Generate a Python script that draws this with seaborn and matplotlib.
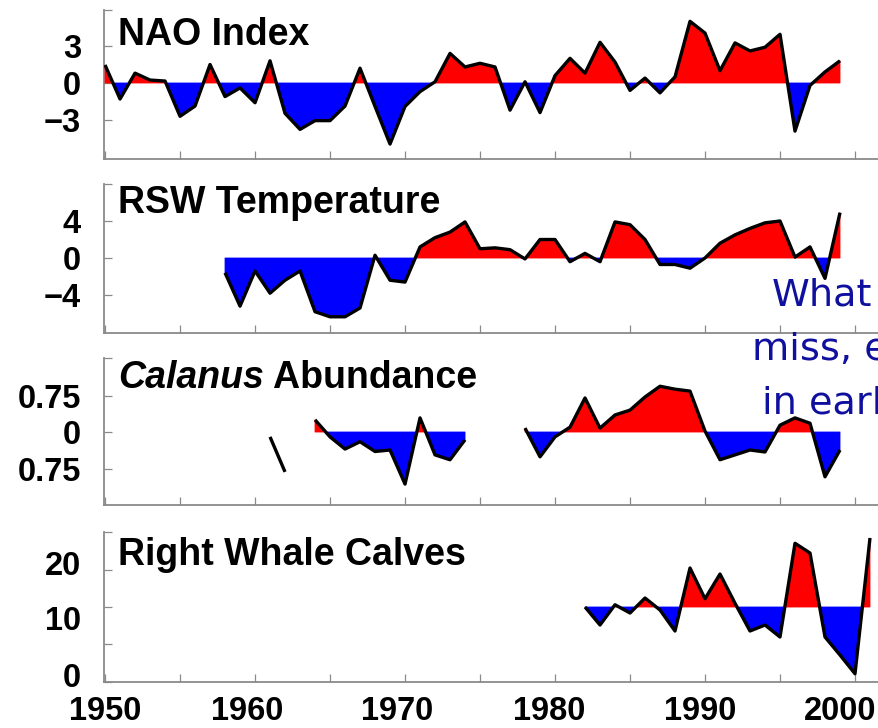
import numpy as np
import pandas as pd
import matplotlib
matplotlib.use("Agg")
import matplotlib.pyplot as plt
import seaborn as sns
from matplotlib import font_manager

# ---------------- data ----------------
nao_years = list(range(1950, 2000))
nao_values = [1.46, -1.3, 0.8, 0.24, 0.16, -2.7, -1.87, 1.5, -1.1, -0.4,
              -1.6, 1.8, -2.46, -3.76, -3.05, -3.05, -1.87, 1.2, -1.9, -4.95,
              -1.9, -0.7, 0.1, 2.4, 1.3, 1.6, 1.3, -2.2, 0.1, -2.4,
              0.6, 2.0, 0.8, 3.3, 1.7, -0.6, 0.4, -0.8, 0.5, 5.0,
              4.05, 1.0, 3.25, 2.6, 2.9, 3.95, -3.9, -0.2, 0.9, 1.8]

rsw_years = list(range(1958, 2000))
rsw_values = [-1.6, -5.2, -1.4, -3.8, -2.4, -1.4, -5.8, -6.35, -6.35, -5.4,
              0.3, -2.4, -2.6, 1.2, 2.2, 2.8, 3.9, 1.0, 1.1, 0.9,
              -0.1, 2.0, 2.0, -0.4, 0.5, -0.4, 3.9, 3.6, 2.0, -0.7,
              -0.7, -1.1, 0.0, 1.6, 2.5, 3.2, 3.8, 4.0, 0.1, 1.2,
              -2.2, 4.9]

# NaN marks years without samples
calanus_years = list(range(1961, 2000))
calanus_values = [-0.1, -0.82, np.nan,
                  0.25, -0.1, -0.35, -0.2, -0.4, -0.37, -1.07, 0.29, -0.47, -0.57, -0.16,
                  np.nan, np.nan, np.nan,
                  0.08, -0.51, -0.1, 0.1, 0.7, 0.08, 0.35, 0.45, 0.72, 0.94,
                  0.88, 0.84, 0.02, -0.57, -0.47, -0.37, -0.41, 0.14, 0.29, 0.18,
                  -0.92, -0.37]

calves_years = list(range(1982, 2002))
calves_values = [10.0, 7.6, 10.3, 9.2, 11.2, 9.6, 6.8, 15.2, 11.1, 14.4,
                 10.5, 6.8, 7.6, 6.0, 18.5, 17.2, 6.0, 3.6, 1.1, 19.2]

titles = ["NAO Index", "RSW Temperature", "Calanus Abundance", "Right Whale Calves"]
baselines = [0, 0, 0, 10]
decade_labels = ["1950", "1960", "1970", "1980", "1990", "2000"]

# ---------------- style ----------------
names = {f.name for f in font_manager.fontManager.ttflist}
TICK_FONT = "Liberation Sans Narrow" if "Liberation Sans Narrow" in names else "Liberation Sans"
TICK_SIZE = 25 if TICK_FONT == "Liberation Sans Narrow" else 23.5

sns.set_theme(style="white")
plt.rcParams["font.family"] = ["Liberation Sans", "DejaVu Sans"]

RED, BLUE = "#ff0000", "#0000ff"
AXIS_GREY = "#8a8a8a"

fig = plt.figure(figsize=(8.79, 7.28), dpi=100)
fig.patch.set_facecolor("white")

rects = [(0.1183, 0.7816, 0.8817, 0.2047),
         (0.1183, 0.5426, 0.8817, 0.2047),
         (0.1183, 0.3063, 0.8817, 0.2019),
         (0.1183, 0.0632, 0.8817, 0.2060)]
ylims = [(-6.16, 5.92), (-8.1, 8.0), (-1.5, 1.52), (0, 20)]
title_y = [0.953, 0.993, 0.986, 0.967]
XLIM = (1949.93, 2001.6)

series = [(nao_years, nao_values), (rsw_years, rsw_values),
          (calanus_years, calanus_values), (calves_years, calves_values)]


def segments(years, values):
    df = pd.DataFrame({"year": years, "value": values})
    df["seg"] = df["value"].isna().cumsum()
    return df.dropna()


axes = []
for i, ((yrs, vals), rect) in enumerate(zip(series, rects)):
    ax = fig.add_axes(rect)
    axes.append(ax)
    ax.set_facecolor("none")
    df = segments(yrs, vals)
    base = baselines[i]
    for _, g in df.groupby("seg"):
        if len(g) < 3:
            continue
        x = g["year"].to_numpy(float)
        y = g["value"].to_numpy(float)
        ax.fill_between(x, y, base, where=y >= base, interpolate=True,
                        color=RED, lw=0.6, zorder=1)
        ax.fill_between(x, y, base, where=y <= base, interpolate=True,
                        color=BLUE, lw=0.6, zorder=1)
    sns.lineplot(data=df, x="year", y="value", units="seg", estimator=None,
                 color="black", lw=2.4, ax=ax, legend=False, zorder=3,
                 solid_joinstyle="round", solid_capstyle="butt")
    ax.set_xlim(*XLIM)
    ax.set_ylim(*ylims[i])
    ax.set_xlabel("")
    ax.set_ylabel("")
    for side in ("top", "right"):
        ax.spines[side].set_visible(False)
    for side in ("left", "bottom"):
        ax.spines[side].set_color(AXIS_GREY)
        ax.spines[side].set_linewidth(1.3)
        ax.spines[side].set_zorder(0.5)

    ax.tick_params(which="major", direction="in", length=6, width=0.9,
                   color=AXIS_GREY, left=True, bottom=True)
    ax.set_xticks(range(1950, 2001, 5), labels=[""] * 11)

tick_kw = dict(fontfamily=TICK_FONT, fontweight="bold", fontsize=TICK_SIZE, color="black")

# y ticks of the three anomaly panels
axes[0].set_yticks([-3, 0, 3, 5.92], labels=["\u22123", "0", "3", ""], **tick_kw)
axes[1].set_yticks([-4, 0, 4, 8.0], labels=["\u22124", "0", "4", ""], **tick_kw)
axes[2].set_yticks([-0.75, 0, 0.75, 1.52], labels=["0.75", "0", "0.75", ""], **tick_kw)

# calves panel: tick marks every 5, count labels on their own
axes[3].set_yticks([0, 5, 10, 15, 20], labels=[""] * 5)
axes[3].set_yticks([0.9, 8.5, 15.9], labels=["0", "10", "20"], minor=True, **tick_kw)
axes[3].tick_params(axis="y", which="minor", length=0, left=True)

for ax in axes:
    ax.tick_params(axis="y", which="both", pad=16.5)

# decade labels along the bottom panel
axes[3].xaxis.remove_overlapping_locs = False
axes[3].set_xticks([1950, 1959.5, 1969.5, 1979.6, 1989.7, 1999.0],
                   labels=decade_labels, minor=True, **tick_kw)
axes[3].tick_params(axis="x", which="minor", length=0, bottom=True, pad=10)

# panel titles
title_kw = dict(fontsize=27, fontweight="bold", color="black", family="Liberation Sans")
for i, ax in enumerate(axes):
    if i == 2:
        t1 = ax.text(0.018, title_y[i], "Calanus", transform=ax.transAxes,
                     ha="left", va="top", style="italic", **title_kw)
        ax.annotate(" Abundance", xy=(1, 0), xycoords=t1, ha="left", va="bottom",
                    **title_kw)
    else:
        ax.text(0.018, title_y[i], titles[i], transform=ax.transAxes,
                ha="left", va="top", **title_kw)

# slide caption running off the right edge
caption_kw = dict(fontsize=27.5, color="#10109e", family="DejaVu Sans",
                  ha="left", va="baseline", zorder=10)
fig.text(772 / 879, 1 - 305 / 728, "What", **caption_kw)
fig.text(752 / 879, 1 - 360 / 728, "miss, e", **caption_kw)
fig.text(762 / 879, 1 - 413 / 728, "in earl", **caption_kw)

fig.savefig("out.png", dpi=100, facecolor="white")
